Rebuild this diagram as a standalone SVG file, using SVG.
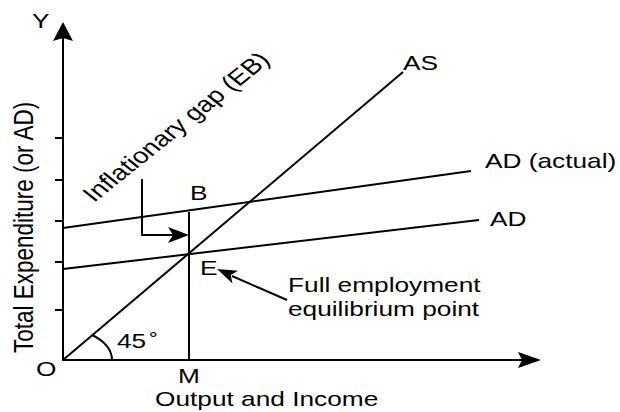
<svg xmlns="http://www.w3.org/2000/svg" width="620" height="412" viewBox="0 0 620 412">
<style>
  text { font-family: "Liberation Sans", Arial, Helvetica, sans-serif; font-size: 21px; fill: #000; }
  .ln { stroke: #000; stroke-width: 2; fill: none; }
  .ah { fill: #000; stroke: none; }
</style>
<rect width="620" height="412" fill="#fff"/>
<g id="axes">
  <line class="ln" x1="63" y1="361" x2="63" y2="38"/>
  <polygon class="ah" points="63,22 73,41 63,38 53,41"/>
  <line class="ln" x1="62" y1="360" x2="524" y2="360"/>
  <polygon class="ah" points="541,360 518,352 522,360 518,368"/>
  <g class="ln">
    <line x1="55" y1="138" x2="63" y2="138"/>
    <line x1="55" y1="180" x2="63" y2="180"/>
    <line x1="55" y1="221" x2="63" y2="221"/>
    <line x1="55" y1="262" x2="63" y2="262"/>
    <line x1="55" y1="310" x2="63" y2="310"/>
  </g>
</g>
<g id="connectors">
  <line id="AS" class="ln" x1="63" y1="360" x2="403" y2="72"/>
  <line id="ADactual" class="ln" x1="63" y1="228" x2="471" y2="171"/>
  <line id="AD" class="ln" x1="63" y1="269" x2="479" y2="220"/>
  <line id="EM" class="ln" x1="189" y1="212" x2="189" y2="360"/>
  <path class="ln" d="M92,335 A49,31 0 0 1 112,360"/>
  <polyline class="ln" points="142,179 142,235 174,235"/>
  <polygon class="ah" points="189,235 168,227 173,235 168,243"/>
  <line class="ln" x1="287" y1="300" x2="232" y2="276"/>
  <polygon class="ah" points="217,269 238.1,270.7 230.7,275.1 232.5,283.5"/>
</g>
<g id="labels">
  <text transform="translate(32,28) scale(1.25,1)">Y</text>
  <text transform="translate(36,376) scale(1.25,1)">O</text>
  <text transform="translate(178,383) scale(1.25,1)">M</text>
  <text transform="translate(155,406) scale(1.25,1)">Output and Income</text>
  <text transform="translate(33,353) scale(1.25,1) rotate(-90)" style="font-size:22.5px">Total Expenditure (or AD)</text>
  <text transform="translate(117,348) scale(1.25,1)">45<tspan dx="2" style="font-size:18px" dy="-3">°</tspan></text>
  <text transform="translate(190,200) scale(1.25,1)">B</text>
  <text transform="translate(200,275) scale(1.25,1)">E</text>
  <text transform="translate(403,70) scale(1.25,1)">AS</text>
  <text transform="translate(485,168) scale(1.25,1)">AD (actual)</text>
  <text transform="translate(490,226) scale(1.25,1)">AD</text>
  <text transform="translate(288,292) scale(1.25,1)">Full employment</text>
  <text transform="translate(288,316) scale(1.25,1)">equilibrium point</text>
  <text transform="translate(94,203) scale(1.25,1) rotate(-45)" style="font-size:22px">Inflationary gap (EB)</text>
</g>
</svg>
